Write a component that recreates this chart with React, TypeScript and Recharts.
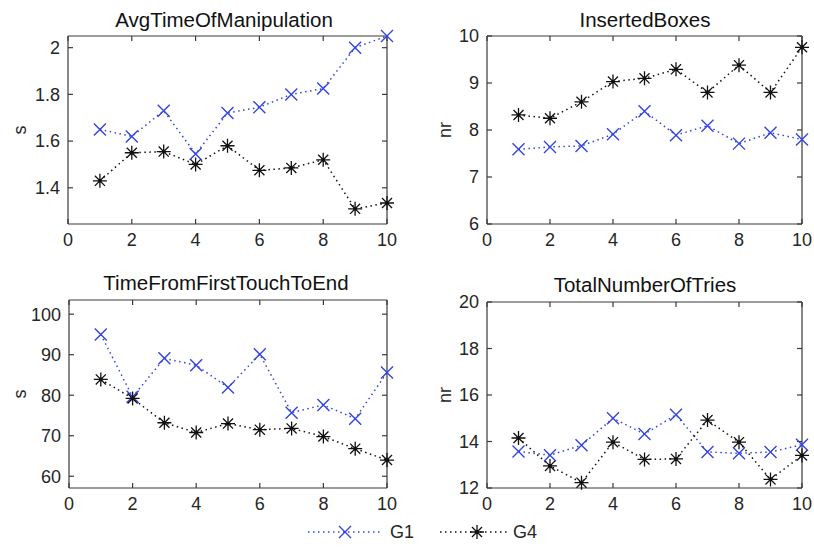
import { LineChart, Line, XAxis, YAxis } from 'recharts';

// runs on the x axis
const RUNS = [1, 2, 3, 4, 5, 6, 7, 8, 9, 10];
const X_TICKS = [0, 2, 4, 6, 8, 10];

// AvgTimeOfManipulation (s)
const avgG1 = [1.65, 1.62, 1.73, 1.545, 1.72, 1.745, 1.8, 1.825, 2.0, 2.05];
const avgG4 = [1.43, 1.55, 1.555, 1.5, 1.58, 1.475, 1.485, 1.52, 1.31, 1.335];
const avgTicks = [1.4, 1.6, 1.8, 2];

// InsertedBoxes (nr)
const boxesG1 = [7.59, 7.64, 7.66, 7.91, 8.4, 7.89, 8.09, 7.71, 7.94, 7.8];
const boxesG4 = [8.32, 8.25, 8.6, 9.03, 9.1, 9.29, 8.8, 9.38, 8.8, 9.76];
const boxesTicks = [6, 7, 8, 9, 10];

// TimeFromFirstTouchToEnd (s)
const timeG1 = [95.0, 79.6, 89.1, 87.4, 81.9, 90.1, 75.7, 77.6, 74.2, 85.6];
const timeG4 = [83.9, 79.2, 73.2, 70.8, 73.0, 71.5, 71.8, 69.8, 66.8, 64.0];
const timeTicks = [60, 70, 80, 90, 100];

// TotalNumberOfTries (nr)
const triesG1 = [13.57, 13.41, 13.84, 15.0, 14.32, 15.15, 13.55, 13.49, 13.55, 13.86];
const triesG4 = [14.15, 12.95, 12.23, 13.97, 13.23, 13.25, 14.92, 13.97, 12.37, 13.4];
const triesTicks = [12, 14, 16, 18, 20];

const BLUE = '#3344e0';
const BLACK = '#111';
const AXIS = '#3a3a3a';
const FONT = '"Liberation Sans", Arial, sans-serif';

const toRows = (g1: number[], g4: number[]) =>
  RUNS.map((x, i) => ({ x, g1: g1[i], g4: g4[i] }));

function Cross({ cx, cy }: any) {
  if (cx == null || cy == null) return null;
  const r = 6;
  return (
    <path
      d={`M${cx - r},${cy - r}L${cx + r},${cy + r}M${cx - r},${cy + r}L${cx + r},${cy - r}`}
      stroke={BLUE}
      strokeWidth={1.4}
      fill="none"
    />
  );
}

function Star({ cx, cy }: any) {
  if (cx == null || cy == null) return null;
  const r = 7;
  const d = r * 0.72;
  return (
    <g>
      <path
        d={`M${cx - r},${cy}L${cx + r},${cy}M${cx},${cy - r}L${cx},${cy + r}M${cx - d},${cy - d}L${cx + d},${cy + d}M${cx - d},${cy + d}L${cx + d},${cy - d}`}
        stroke={BLACK}
        strokeWidth={1.3}
        fill="none"
      />
      <circle cx={cx} cy={cy} r={1.8} fill={BLACK} />
    </g>
  );
}

interface PanelProps {
  g1: number[];
  g4: number[];
  domain: [number, number];
  yTicks: number[];
  left: number;
  top: number;
  width: number;
  height: number;
  marginTop: number;
  marginRight: number;
  yAxisWidth: number;
}

const tickStyle = { fill: '#262626', fontSize: 18, fontFamily: FONT };

function Panel({ g1, g4, domain, yTicks, left, top, width, height, marginTop, marginRight, yAxisWidth }: PanelProps) {
  const data = toRows(g1, g4);
  return (
    <div style={{ position: 'absolute', left, top }}>
      <LineChart width={width} height={height} data={data} margin={{ top: marginTop - 1, right: marginRight - 1, bottom: 0, left: 0 }}>
        <XAxis
          dataKey="x"
          type="number"
          domain={[0, 10]}
          ticks={X_TICKS}
          height={36}
          tickSize={-5}
          tickMargin={14}
          stroke={AXIS}
          strokeWidth={1.2}
          tick={tickStyle}
        />
        <XAxis
          xAxisId="top"
          dataKey="x"
          orientation="top"
          type="number"
          domain={[0, 10]}
          ticks={X_TICKS}
          height={1}
          tickSize={-5}
          tickMargin={0}
          tickFormatter={() => ''}
          stroke={AXIS}
          strokeWidth={1.2}
        />
        <YAxis
          type="number"
          domain={domain}
          ticks={yTicks}
          width={yAxisWidth}
          tickSize={-5}
          tickMargin={13}
          stroke={AXIS}
          strokeWidth={1.2}
          tick={tickStyle}
        />
        <YAxis
          yAxisId="right"
          orientation="right"
          type="number"
          domain={domain}
          ticks={yTicks}
          width={1}
          tickSize={-5}
          tickMargin={0}
          tickFormatter={() => ''}
          stroke={AXIS}
          strokeWidth={1.2}
        />
        {/* invisible series that keeps the top and right box axes alive */}
        <Line
          xAxisId="top"
          yAxisId="right"
          dataKey="g4"
          stroke="none"
          dot={false}
          activeDot={false}
          legendType="none"
          isAnimationActive={false}
        />
        <Line
          dataKey="g1"
          stroke={BLUE}
          strokeWidth={1.5}
          strokeDasharray="1.5 3.5"
          dot={<Cross />}
          activeDot={false}
          isAnimationActive={false}
        />
        <Line
          dataKey="g4"
          stroke={BLACK}
          strokeWidth={1.5}
          strokeDasharray="1.5 3.5"
          dot={<Star />}
          activeDot={false}
          isAnimationActive={false}
        />
      </LineChart>
    </div>
  );
}

export default function App() {
  const titleStyle = { fontSize: 20.5, fontFamily: FONT, fill: '#111' } as const;
  const labelStyle = { fontSize: 18, fontFamily: FONT, fill: '#262626' } as const;
  return (
    <div style={{ position: 'absolute', left: 0, top: 0, width: 814, height: 550, background: '#fff', overflow: 'hidden' }}>
      <Panel g1={avgG1} g4={avgG4} domain={[1.245, 2.05]} yTicks={avgTicks}
        left={0} top={0} width={410} height={260} marginTop={36} marginRight={23} yAxisWidth={68} />
      <Panel g1={boxesG1} g4={boxesG4} domain={[6, 10]} yTicks={boxesTicks}
        left={405} top={0} width={409} height={260} marginTop={36} marginRight={12} yAxisWidth={82} />
      <Panel g1={timeG1} g4={timeG4} domain={[57.1, 103.5]} yTicks={timeTicks}
        left={0} top={260} width={410} height={264} marginTop={40} marginRight={23} yAxisWidth={69} />
      <Panel g1={triesG1} g4={triesG4} domain={[12, 20]} yTicks={triesTicks}
        left={405} top={260} width={409} height={264} marginTop={42} marginRight={12} yAxisWidth={82} />

      <svg width={814} height={550} style={{ position: 'absolute', left: 0, top: 0, pointerEvents: 'none' }}>
        <text x={224} y={27} textAnchor="middle" style={titleStyle}>AvgTimeOfManipulation</text>
        <text x={645} y={27} textAnchor="middle" style={titleStyle}>InsertedBoxes</text>
        <text x={226} y={290} textAnchor="middle" style={titleStyle}>TimeFromFirstTouchToEnd</text>
        <text x={645} y={292} textAnchor="middle" style={titleStyle}>TotalNumberOfTries</text>

        <text transform="translate(26,130) rotate(-90)" textAnchor="middle" style={labelStyle}>s</text>
        <text transform="translate(451,130) rotate(-90)" textAnchor="middle" style={labelStyle}>nr</text>
        <text transform="translate(26,394) rotate(-90)" textAnchor="middle" style={labelStyle}>s</text>
        <text transform="translate(451,395) rotate(-90)" textAnchor="middle" style={labelStyle}>nr</text>

        <g>
          <line x1={308} y1={532} x2={380} y2={532} stroke={BLUE} strokeWidth={1.5} strokeDasharray="1.5 3.5" />
          <Cross cx={345} cy={532} />
          <text x={390} y={538} style={labelStyle}>G1</text>
          <line x1={440} y1={532} x2={508} y2={532} stroke={BLACK} strokeWidth={1.5} strokeDasharray="1.5 3.5" />
          <Star cx={477} cy={532} />
          <text x={513} y={538} style={labelStyle}>G4</text>
        </g>
      </svg>
    </div>
  );
}
